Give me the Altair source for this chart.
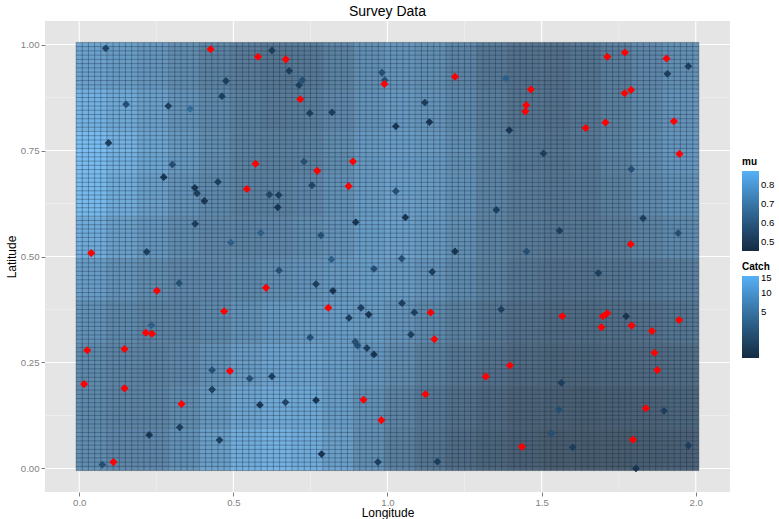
import altair as alt
import numpy as np
import pandas as pd

# ---- fitted surface (mu) on 0.1 x 0.1 blocks, rows listed bottom -> top ----
x_edges = [-0.01, 0.09, 0.19, 0.29, 0.39, 0.49, 0.59, 0.69, 0.79, 0.89, 0.99,
           1.09, 1.19, 1.29, 1.39, 1.49, 1.59, 1.69, 1.79, 1.89, 2.01]
y_edges = [-0.005, 0.095, 0.195, 0.295, 0.395, 0.495, 0.595, 0.695, 0.795, 0.895, 1.005]
mu_rows = [
    [0.67, 0.65, 0.65, 0.69, 0.75, 0.80, 0.82, 0.80, 0.75, 0.68, 0.62, 0.57, 0.53, 0.50, 0.48, 0.46, 0.46, 0.46, 0.47, 0.48],
    [0.66, 0.64, 0.64, 0.67, 0.72, 0.77, 0.79, 0.78, 0.74, 0.69, 0.64, 0.59, 0.55, 0.52, 0.49, 0.48, 0.47, 0.48, 0.49, 0.50],
    [0.66, 0.64, 0.63, 0.65, 0.69, 0.73, 0.76, 0.76, 0.74, 0.71, 0.67, 0.62, 0.58, 0.55, 0.52, 0.50, 0.50, 0.51, 0.52, 0.53],
    [0.69, 0.66, 0.64, 0.64, 0.66, 0.69, 0.72, 0.73, 0.74, 0.73, 0.70, 0.66, 0.62, 0.58, 0.55, 0.53, 0.53, 0.54, 0.55, 0.57],
    [0.74, 0.70, 0.67, 0.65, 0.65, 0.66, 0.68, 0.70, 0.72, 0.74, 0.73, 0.70, 0.66, 0.62, 0.58, 0.56, 0.56, 0.57, 0.59, 0.61],
    [0.80, 0.75, 0.71, 0.67, 0.65, 0.64, 0.65, 0.67, 0.70, 0.74, 0.75, 0.72, 0.68, 0.63, 0.60, 0.58, 0.58, 0.60, 0.63, 0.66],
    [0.85, 0.80, 0.75, 0.70, 0.66, 0.63, 0.63, 0.65, 0.69, 0.73, 0.75, 0.73, 0.69, 0.64, 0.60, 0.58, 0.59, 0.62, 0.66, 0.69],
    [0.86, 0.82, 0.77, 0.72, 0.67, 0.63, 0.62, 0.63, 0.67, 0.72, 0.74, 0.72, 0.68, 0.63, 0.59, 0.57, 0.59, 0.63, 0.67, 0.71],
    [0.82, 0.79, 0.75, 0.70, 0.66, 0.62, 0.60, 0.61, 0.65, 0.70, 0.72, 0.70, 0.66, 0.61, 0.57, 0.56, 0.58, 0.62, 0.66, 0.70],
    [0.76, 0.74, 0.71, 0.67, 0.63, 0.60, 0.58, 0.59, 0.63, 0.68, 0.70, 0.68, 0.64, 0.59, 0.56, 0.55, 0.57, 0.61, 0.65, 0.68],
]

# ---- survey stations with a positive catch ----
pos_lon = [0.086, 0.625, 0.681, 0.476, 0.463, 0.152, 0.289, 0.360, 0.095, 0.302,
           0.274, 0.450, 0.375, 0.382, 0.617, 0.647, 0.406, 0.644, 0.376, 0.589,
           0.492, 0.219, 0.724, 0.713, 0.982, 0.991, 0.748, 0.820, 1.121, 1.136,
           1.027, 0.729, 0.755, 1.027, 0.897, 1.058, 1.353, 0.784, 1.219, 1.976,
           1.908, 1.384, 1.395, 1.506, 1.791, 1.829, 1.558, 1.943, 1.451, 0.648,
           0.324, 0.234, 0.431, 0.553, 0.625, 0.431, 0.586, 0.669, 0.326, 0.227,
           0.455, 0.075, 0.818, 1.046, 0.956, 1.145, 0.768, 0.823, 0.914, 0.939,
           0.875, 1.047, 1.087, 1.076, 0.749, 0.895, 0.903, 0.933, 0.956, 0.768,
           0.786, 0.969, 1.162, 1.684, 1.369, 1.774, 1.564, 1.556, 1.897, 1.531,
           1.601, 1.976, 1.806]
pos_lat = [0.991, 0.986, 0.938, 0.914, 0.878, 0.859, 0.855, 0.848, 0.768, 0.717,
           0.687, 0.676, 0.662, 0.649, 0.646, 0.645, 0.631, 0.616, 0.577, 0.556,
           0.533, 0.511, 0.916, 0.904, 0.934, 0.916, 0.838, 0.840, 0.863, 0.817,
           0.807, 0.724, 0.668, 0.654, 0.581, 0.592, 0.610, 0.550, 0.512, 0.949,
           0.931, 0.920, 0.798, 0.743, 0.706, 0.590, 0.561, 0.555, 0.512, 0.467,
           0.437, 0.338, 0.232, 0.212, 0.217, 0.186, 0.150, 0.156, 0.097, 0.079,
           0.067, 0.009, 0.493, 0.495, 0.471, 0.464, 0.435, 0.419, 0.379, 0.363,
           0.355, 0.390, 0.368, 0.316, 0.309, 0.299, 0.290, 0.284, 0.269, 0.161,
           0.034, 0.015, 0.016, 0.461, 0.375, 0.359, 0.202, 0.139, 0.136, 0.083,
           0.050, 0.054, 0.000]
pos_catch = [0.7, 0.35, 0.35, 0.35, 0.35, 1.3, 0.35, 4.0, 0.35, 1.3,
             0.1, 0.35, 0.1, 0.35, 0.7, 0.35, 0.1, 0.1, 0.35, 2.6,
             2.6, 0.35, 1.3, 0.35, 1.3, 1.3, 0.35, 0.35, 0.35, 0.1,
             0.1, 1.3, 0.7, 1.3, 0.1, 0.1, 0.35, 1.3, 0.1, 0.35,
             0.35, 2.6, 0.1, 0.35, 1.3, 0.35, 0.35, 1.3, 1.3, 1.3,
             1.3, 2.6, 1.3, 1.3, 0.35, 0.35, 0.1, 0.7, 0.35, 0.1,
             0.35, 1.3, 2.6, 1.3, 1.3, 0.35, 0.35, 0.1, 0.35, 0.1,
             0.35, 0.35, 0.35, 0.35, 1.3, 1.3, 1.3, 0.35, 0.1, 0.1,
             0.1, 0.35, 0.35, 0.35, 0.35, 0.1, 0.35, 1.3, 0.35, 1.3,
             0.35, 0.35, 0.1]

# ---- survey stations with zero catch ----
zero_lon = [0.426, 0.580, 0.670, 0.572, 0.544, 0.039, 0.717, 0.990, 1.219, 0.772,
            0.888, 0.874, 1.770, 1.713, 1.905, 1.465, 1.769, 1.790, 1.450, 1.447,
            1.643, 1.707, 1.929, 1.947, 1.789, 0.252, 0.606, 0.470, 0.216, 0.236,
            0.026, 0.147, 0.016, 0.147, 0.489, 0.332, 0.111, 0.808, 1.140, 1.152,
            1.319, 1.123, 0.922, 0.980, 1.567, 1.699, 1.713, 1.694, 1.792, 1.858,
            1.946, 1.866, 1.875, 1.397, 1.838, 1.796, 1.436]
zero_lat = [0.989, 0.971, 0.965, 0.719, 0.659, 0.508, 0.871, 0.907, 0.924, 0.702,
            0.724, 0.666, 0.981, 0.971, 0.967, 0.894, 0.885, 0.893, 0.857, 0.842,
            0.803, 0.816, 0.819, 0.742, 0.529, 0.419, 0.426, 0.371, 0.320, 0.318,
            0.279, 0.282, 0.199, 0.189, 0.230, 0.152, 0.015, 0.379, 0.368, 0.305,
            0.217, 0.175, 0.162, 0.114, 0.359, 0.359, 0.366, 0.333, 0.337, 0.324,
            0.350, 0.273, 0.232, 0.243, 0.142, 0.068, 0.051]

x_major = [0.0, 0.5, 1.0, 1.5, 2.0]
x_minor = [0.25, 0.75, 1.25, 1.75]
y_major = [0.0, 0.25, 0.5, 0.75, 1.0]
y_minor = [0.125, 0.375, 0.625, 0.875]

X_DOM = [-0.111, 2.111]
Y_DOM = [-0.0555, 1.0555]
FONT = "Liberation Sans"

# surface blocks
blocks = []
for j, row in enumerate(mu_rows):
    for i, v in enumerate(row):
        blocks.append({"x0": x_edges[i], "x1": x_edges[i + 1],
                       "y0": y_edges[j], "y1": y_edges[j + 1], "mu": v})
blocks = pd.DataFrame(blocks)

# outlines of the prediction grid cells (0.02 x 0.01)
cell_x = np.round(-0.01 + 0.02 * np.arange(102), 4)
cell_y = np.round(-0.005 + 0.01 * np.arange(102), 4)
vcell = pd.DataFrame({"x": cell_x, "y0": -0.005, "y1": 1.005})
hcell = pd.DataFrame({"y": cell_y, "x0": -0.01, "x1": 2.01})

stations = pd.DataFrame({"lon": pos_lon, "lat": pos_lat, "catch": pos_catch})
zeros = pd.DataFrame({"lon": zero_lon, "lat": zero_lat})

xs = alt.Scale(domain=X_DOM, nice=False, zero=False)
ys = alt.Scale(domain=Y_DOM, nice=False, zero=False)

x_axis = alt.Axis(title="Longitude", values=x_major, format=".1f", titlePadding=1, labelPadding=1)
y_axis = alt.Axis(title="Latitude", values=y_major, format=".2f", titlePadding=2, labelPadding=2)

# panel grid
vmaj = alt.Chart(pd.DataFrame({"v": x_major})).mark_rule(color="white", strokeWidth=1.1).encode(
    x=alt.X("v:Q", scale=xs, axis=x_axis))
vmin = alt.Chart(pd.DataFrame({"v": x_minor})).mark_rule(color="#F2F2F2", strokeWidth=0.6).encode(
    x=alt.X("v:Q", scale=xs))
hmaj = alt.Chart(pd.DataFrame({"v": y_major})).mark_rule(color="white", strokeWidth=1.1).encode(
    y=alt.Y("v:Q", scale=ys, axis=y_axis))
hmin = alt.Chart(pd.DataFrame({"v": y_minor})).mark_rule(color="#F2F2F2", strokeWidth=0.6).encode(
    y=alt.Y("v:Q", scale=ys))

surface = alt.Chart(blocks).mark_rect(opacity=0.75).encode(
    x=alt.X("x0:Q", scale=xs, title="Longitude"),
    x2="x1:Q",
    y=alt.Y("y0:Q", scale=ys, title="Latitude"),
    y2="y1:Q",
    color=alt.Color(
        "mu:Q",
        scale=alt.Scale(domain=[0.451, 0.874], range=["#132B43", "#56B1F7"], interpolate="lab"),
        legend=alt.Legend(title="mu", orient="none", legendX=697, legendY=136,
                          values=[0.5, 0.6, 0.7, 0.8], format=".1f", gradientOpacity=1,
                          gradientLength=80, gradientThickness=17),
    ),
)

cell_v = alt.Chart(vcell).mark_rule(color="#14283c", strokeWidth=1, opacity=0.35).encode(
    x=alt.X("x:Q", scale=xs), y=alt.Y("y0:Q", scale=ys), y2="y1:Q")
cell_h = alt.Chart(hcell).mark_rule(color="#14283c", strokeWidth=1, opacity=0.35).encode(
    y=alt.Y("y:Q", scale=ys), x=alt.X("x0:Q", scale=xs), x2="x1:Q")

pos_pts = alt.Chart(stations).mark_point(shape="diamond", filled=True, size=60, opacity=1).encode(
    x=alt.X("lon:Q", scale=xs),
    y=alt.Y("lat:Q", scale=ys),
    color=alt.Color(
        "catch:Q",
        scale=alt.Scale(type="sqrt", domain=[0, 15.8], range=["#132B43", "#56B1F7"], interpolate="lab"),
        legend=alt.Legend(title="Catch", orient="none", legendX=697, legendY=241,
                          values=[5, 10, 15], format="d",
                          gradientLength=82, gradientThickness=17),
    ),
)

zero_pts = alt.Chart(zeros).mark_point(shape="diamond", filled=True, size=65, opacity=1, color="red").encode(
    x=alt.X("lon:Q", scale=xs),
    y=alt.Y("lat:Q", scale=ys),
)

chart = (
    alt.layer(vmin, hmin, vmaj, hmaj, surface, cell_v, cell_h, pos_pts, zero_pts)
    .resolve_scale(color="independent")
    .properties(
        width=685, height=471,
        autosize=alt.AutoSizeParams(type="none"),
        padding={"left": 45, "top": 21, "right": 49, "bottom": 27},
        title=alt.TitleParams("Survey Data", font=FONT, fontSize=14, fontWeight="normal",
                              color="black", anchor="middle", offset=1),
    )
    .configure_view(fill="#E5E5E5", stroke=None)
    .configure_axis(
        grid=False, domain=False, labelFont=FONT, labelFontSize=9.6, labelColor="#7F7F7F",
        tickColor="#7F7F7F", tickSize=4,
        titleFont=FONT, titleFontSize=12, titleFontWeight="normal", titleColor="black",
    )
    .configure_legend(
        titleFont=FONT, titleFontSize=10, titleFontWeight="bold", titleColor="black",
        labelFont=FONT, labelFontSize=9.6, labelColor="black", gradientStrokeWidth=0,
        titlePadding=4, labelOffset=4,
    )
)

chart.save("out.html", embed_options={"renderer": "svg", "actions": False})
